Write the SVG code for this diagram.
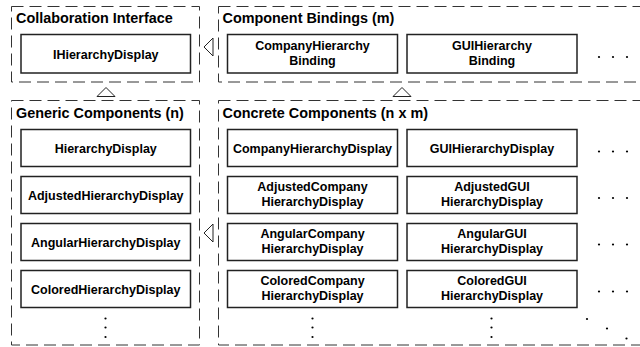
<svg xmlns="http://www.w3.org/2000/svg" width="640" height="347" viewBox="0 0 640 347">
<style>
.pkg{fill:none;stroke:#333;stroke-width:1;stroke-dasharray:12,6}
.box{fill:#fff;stroke:#222;stroke-width:1.5}
.title{font-family:"Liberation Sans",Arial,sans-serif;font-weight:bold;font-size:14.4px;fill:#000}
.lbl{font-family:"Liberation Sans",Arial,sans-serif;font-weight:bold;font-size:12.5px;fill:#000;text-anchor:middle}
.tri{fill:#fff;stroke:#222;stroke-width:1}
.dot{fill:#000}
</style>
<rect width="640" height="347" fill="#fff"/>
<g id="pkg-collab">
<rect class="pkg" x="11.5" y="6.5" width="188" height="75.5"/>
<text class="title" x="16" y="23">Collaboration Interface</text>
</g>
<g id="pkg-bindings">
<rect class="pkg" x="218.5" y="6.5" width="450" height="75.5"/>
<text class="title" x="222.5" y="23">Component Bindings (m)</text>
</g>
<g id="pkg-generic">
<rect class="pkg" x="11.5" y="100.5" width="188" height="244.5"/>
<text class="title" x="16" y="117.5">Generic Components (n)</text>
</g>
<g id="pkg-concrete">
<rect class="pkg" x="218.5" y="100.5" width="450" height="244.5"/>
<text class="title" x="222.5" y="117.5">Concrete Components (n x m)</text>
</g>
<g id="IHierarchyDisplay">
<rect class="box" x="21" y="34.5" width="169.5" height="38.5"/>
<text class="lbl" x="105.75" y="58.5">IHierarchyDisplay</text>
</g>
<g id="CompanyHierarchyBinding">
<rect class="box" x="227.5" y="34.5" width="170" height="38.5"/>
<text class="lbl" x="312.5" y="50">CompanyHierarchy</text>
<text class="lbl" x="312.5" y="65">Binding</text>
</g>
<g id="GUIHierarchyBinding">
<rect class="box" x="407" y="34.5" width="170" height="38.5"/>
<text class="lbl" x="492" y="50">GUIHierarchy</text>
<text class="lbl" x="492" y="65">Binding</text>
</g>
<g id="HierarchyDisplay">
<rect class="box" x="21" y="129.5" width="169.5" height="37"/>
<text class="lbl" x="105.75" y="152.5">HierarchyDisplay</text>
</g>
<g id="AdjustedHierarchyDisplay">
<rect class="box" x="21" y="176.5" width="169.5" height="37"/>
<text class="lbl" x="105.75" y="199.5">AdjustedHierarchyDisplay</text>
</g>
<g id="AngularHierarchyDisplay">
<rect class="box" x="21" y="223.5" width="169.5" height="37"/>
<text class="lbl" x="105.75" y="246.5">AngularHierarchyDisplay</text>
</g>
<g id="ColoredHierarchyDisplay">
<rect class="box" x="21" y="270.5" width="169.5" height="37"/>
<text class="lbl" x="105.75" y="293.5">ColoredHierarchyDisplay</text>
</g>
<g id="CompanyHierarchyDisplay">
<rect class="box" x="227.5" y="129.5" width="170" height="37"/>
<text class="lbl" x="312.5" y="152.5">CompanyHierarchyDisplay</text>
</g>
<g id="GUIHierarchyDisplay">
<rect class="box" x="407" y="129.5" width="170" height="37"/>
<text class="lbl" x="492" y="152.5">GUIHierarchyDisplay</text>
</g>
<g id="AdjustedCompanyHierarchyDisplay">
<rect class="box" x="227.5" y="176.5" width="170" height="37"/>
<text class="lbl" x="312.5" y="190.5">AdjustedCompany</text>
<text class="lbl" x="312.5" y="205.5">HierarchyDisplay</text>
</g>
<g id="AdjustedGUIHierarchyDisplay">
<rect class="box" x="407" y="176.5" width="170" height="37"/>
<text class="lbl" x="492" y="190.5">AdjustedGUI</text>
<text class="lbl" x="492" y="205.5">HierarchyDisplay</text>
</g>
<g id="AngularCompanyHierarchyDisplay">
<rect class="box" x="227.5" y="223.5" width="170" height="37"/>
<text class="lbl" x="312.5" y="237.5">AngularCompany</text>
<text class="lbl" x="312.5" y="252.5">HierarchyDisplay</text>
</g>
<g id="AngularGUIHierarchyDisplay">
<rect class="box" x="407" y="223.5" width="170" height="37"/>
<text class="lbl" x="492" y="237.5">AngularGUI</text>
<text class="lbl" x="492" y="252.5">HierarchyDisplay</text>
</g>
<g id="ColoredCompanyHierarchyDisplay">
<rect class="box" x="227.5" y="270.5" width="170" height="37"/>
<text class="lbl" x="312.5" y="284.5">ColoredCompany</text>
<text class="lbl" x="312.5" y="299.5">HierarchyDisplay</text>
</g>
<g id="ColoredGUIHierarchyDisplay">
<rect class="box" x="407" y="270.5" width="170" height="37"/>
<text class="lbl" x="492" y="284.5">ColoredGUI</text>
<text class="lbl" x="492" y="299.5">HierarchyDisplay</text>
</g>
<g id="ellipses">
<circle class="dot" cx="599" cy="57" r="1.1"/><circle class="dot" cx="613" cy="57" r="1.1"/><circle class="dot" cx="627" cy="57" r="1.1"/>
<circle class="dot" cx="599" cy="151.5" r="1.1"/><circle class="dot" cx="613" cy="151.5" r="1.1"/><circle class="dot" cx="627" cy="151.5" r="1.1"/>
<circle class="dot" cx="599" cy="198" r="1.1"/><circle class="dot" cx="613" cy="198" r="1.1"/><circle class="dot" cx="627" cy="198" r="1.1"/>
<circle class="dot" cx="599" cy="244.5" r="1.1"/><circle class="dot" cx="613" cy="244.5" r="1.1"/><circle class="dot" cx="627" cy="244.5" r="1.1"/>
<circle class="dot" cx="599" cy="291.5" r="1.1"/><circle class="dot" cx="613" cy="291.5" r="1.1"/><circle class="dot" cx="627" cy="291.5" r="1.1"/>
<circle class="dot" cx="105.5" cy="318.5" r="1.1"/><circle class="dot" cx="105.5" cy="327.5" r="1.1"/><circle class="dot" cx="105.5" cy="337" r="1.1"/>
<circle class="dot" cx="312.5" cy="318.5" r="1.1"/><circle class="dot" cx="312.5" cy="327.5" r="1.1"/><circle class="dot" cx="312.5" cy="337" r="1.1"/>
<circle class="dot" cx="491.5" cy="318.5" r="1.1"/><circle class="dot" cx="491.5" cy="327.5" r="1.1"/><circle class="dot" cx="491.5" cy="337" r="1.1"/>
<circle class="dot" cx="587" cy="319" r="1.1"/><circle class="dot" cx="607" cy="328.5" r="1.1"/><circle class="dot" cx="626.5" cy="338.5" r="1.1"/>
</g>
<g id="connectors">
<polygon class="tri" points="106,87.5 97,96.5 115,96.5"/>
<polygon class="tri" points="402,87.5 393,96.5 411,96.5"/>
<polygon class="tri" points="204,47 213,38 213,56"/>
<polygon class="tri" points="204,233 213,224 213,242"/>
</g>
</svg>
